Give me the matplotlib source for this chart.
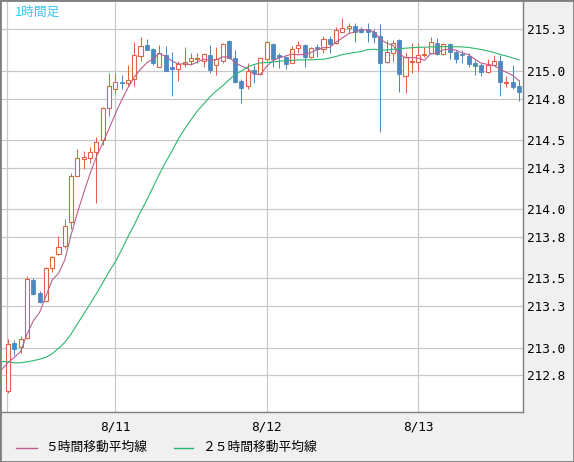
import numpy as np
import pandas as pd
import matplotlib
matplotlib.use('Agg')
import matplotlib.pyplot as plt
from matplotlib.lines import Line2D
from matplotlib.patches import Rectangle

# hourly candles, 8/10 07:00 .. 8/13 16:00
times = pd.date_range('2016-08-10 07:00', periods=82, freq='h')

opens = [212.686, 213.033, 213.004, 213.069, 213.489, 213.395, 213.337, 213.576, 213.677, 213.735,
         213.908, 214.241, 214.364, 214.371, 214.414, 214.501, 214.732, 214.870, 214.920, 214.913,
         214.942, 215.108, 215.188, 215.159, 215.029, 215.116, 215.029, 215.014, 215.051, 215.072,
         215.088, 215.072, 215.116, 215.043, 215.072, 215.217, 215.094, 214.928, 214.892, 215.007,
         214.978, 215.087, 215.195, 215.116, 215.101, 215.058, 215.166, 215.188, 215.101, 215.174,
         215.159, 215.231, 215.202, 215.284, 215.311, 215.325, 215.304, 215.304, 215.282, 215.253,
         215.065, 215.130, 215.224, 214.964, 215.065, 215.065, 215.116, 215.130, 215.202, 215.123,
         215.195, 215.137, 215.123, 215.108, 215.058, 215.043, 214.993, 215.043, 215.072, 214.913,
         214.920, 214.892]
highs = [213.062, 213.055, 213.084, 213.518, 213.503, 213.409, 213.583, 213.662, 213.807, 213.930,
         214.262, 214.436, 214.422, 214.450, 214.523, 214.740, 214.986, 214.986, 214.971, 215.043,
         215.210, 215.246, 215.231, 215.166, 215.188, 215.181, 215.137, 215.072, 215.174, 215.130,
         215.130, 215.130, 215.188, 215.174, 215.202, 215.224, 215.152, 214.942, 215.058, 215.043,
         215.101, 215.217, 215.202, 215.130, 215.108, 215.181, 215.217, 215.195, 215.174, 215.195,
         215.253, 215.253, 215.318, 215.383, 215.347, 215.347, 215.318, 215.347, 215.304, 215.340,
         215.224, 215.224, 215.231, 215.137, 215.202, 215.202, 215.174, 215.246, 215.239, 215.202,
         215.202, 215.152, 215.152, 215.130, 215.080, 215.058, 215.087, 215.116, 215.116, 214.964,
         215.043, 214.935]
lows = [212.672, 212.946, 212.961, 213.062, 213.380, 213.322, 213.330, 213.547, 213.670, 213.720,
        213.858, 214.241, 214.291, 214.335, 214.046, 214.465, 214.675, 214.834, 214.870, 214.892,
        214.892, 215.072, 215.152, 215.043, 215.029, 215.000, 214.819, 214.928, 215.029, 215.043,
        215.058, 215.029, 214.986, 214.971, 215.058, 215.087, 214.913, 214.769, 214.870, 214.913,
        214.971, 215.072, 215.029, 215.022, 215.014, 215.058, 215.130, 215.029, 215.094, 215.101,
        215.130, 215.130, 215.195, 215.282, 215.275, 215.210, 215.275, 215.210, 215.202, 214.559,
        215.058, 215.065, 214.848, 214.841, 214.986, 215.000, 215.101, 215.130, 215.116, 215.116,
        215.087, 215.058, 215.058, 215.029, 214.971, 214.964, 214.986, 215.043, 214.819, 214.884,
        214.870, 214.783]
closes = [213.026, 212.990, 213.062, 213.496, 213.388, 213.330, 213.576, 213.655, 213.727, 213.879,
          214.241, 214.371, 214.378, 214.414, 214.487, 214.732, 214.892, 214.920, 214.910, 214.935,
          215.116, 215.181, 215.152, 215.058, 215.130, 215.000, 215.014, 215.051, 215.065, 215.094,
          215.094, 215.123, 215.007, 215.087, 215.195, 215.094, 214.920, 214.877, 215.000, 214.986,
          215.094, 215.210, 215.087, 215.101, 215.051, 215.159, 215.188, 215.101, 215.166, 215.159,
          215.231, 215.195, 215.296, 215.309, 215.325, 215.282, 215.282, 215.282, 215.246, 215.058,
          215.137, 215.202, 214.978, 215.101, 215.069, 215.116, 215.123, 215.210, 215.123, 215.195,
          215.137, 215.087, 215.116, 215.051, 215.036, 214.993, 215.043, 215.072, 214.920, 214.920,
          214.884, 214.848]
# closes before the visible window (needed for the 5h average at the left edge)
prior_closes = [212.78, 212.80, 212.85, 212.88, 212.90]

# 25h moving average as drawn, starting one hour before the first candle
ma25 = [212.898, 212.898, 212.889, 212.890, 212.897, 212.905, 212.916, 212.929, 212.955, 212.994,
        213.037, 213.098, 213.171, 213.243, 213.315, 213.388, 213.467, 213.547, 213.619, 213.706,
        213.800, 213.887, 213.981, 214.067, 214.161, 214.255, 214.342, 214.422, 214.508, 214.581,
        214.646, 214.711, 214.761, 214.812, 214.855, 214.892, 214.935, 214.975, 215.000, 215.029,
        215.047, 215.058, 215.061, 215.065, 215.071, 215.074, 215.077, 215.080, 215.080, 215.081,
        215.083, 215.085, 215.094, 215.105, 215.119, 215.127, 215.134, 215.141, 215.155, 215.157,
        215.152, 215.152, 215.157, 215.161, 215.165, 215.168, 215.171, 215.172, 215.174, 215.175,
        215.176, 215.176, 215.175, 215.174, 215.170, 215.163, 215.155, 215.145, 215.134, 215.119,
        215.108, 215.094, 215.080]

y_ticks = [212.8, 213.0, 213.3, 213.5, 213.8, 214.0, 214.3, 214.5, 214.8, 215.0, 215.3]

up_color = '#dc6442'
down_color = '#4b89c0'
ma5_color = '#b95e8e'
ma25_color = '#2db56e'
grid_color = '#c8c8c8'
frame_color = '#7f7f7f'
cjk = ['Noto Sans CJK JP', 'DejaVu Sans']
px = 0.72  # one pixel in points

W, H = 574, 462
fig = plt.figure(figsize=(W / 100, H / 100), dpi=100)
fig.patch.set_facecolor('#f0f0f0')
ax = fig.add_axes([1 / W, 50 / H, 522 / W, 411 / H])
ax.set_facecolor('white')

x = np.arange(len(closes))
o = np.array(opens)
c = np.array(closes)
hi = np.array(highs)
lo = np.array(lows)
up = c >= o

# wicks
ax.vlines(x[up], lo[up], hi[up], color=up_color, lw=px, zorder=2)
ax.vlines(x[~up], lo[~up], hi[~up], color=down_color, lw=px, zorder=2)

# bodies: hollow for rising hours, filled for falling
bw = 0.64
ax.bar(x[up], (c - o)[up], bottom=o[up], width=bw, facecolor='white', edgecolor=up_color,
       linewidth=px * 1.1, zorder=3)
ax.bar(x[~up], (o - c)[~up], bottom=c[~up], width=bw, facecolor=down_color, edgecolor=down_color,
       linewidth=px * 0.8, zorder=3)

# moving averages
ma5 = pd.Series(prior_closes + closes).rolling(5).mean().dropna().values
ax.plot(np.arange(-1, len(closes)), ma5, color=ma5_color, lw=px * 1.1, zorder=4)
ax.plot(np.arange(-1, len(closes)), ma25, color=ma25_color, lw=px * 1.1, zorder=4)

# axes
ax.set_xlim(-1.11, 81.62)
ax.set_ylim(212.534, 215.506)
day_idx = [i for i, t in enumerate(times) if t.hour == 0]
ax.set_xticks(day_idx)
ax.set_xticklabels([f'{t.month}/{t.day}' for t in times[day_idx]])
ax.set_yticks(y_ticks)
ax.set_yticklabels([f'{v:.1f}' for v in y_ticks])
ax.yaxis.tick_right()
ax.tick_params(axis='y', length=0, pad=3, labelsize=9.2, labelcolor='black')
ax.tick_params(axis='x', length=0, pad=6, labelsize=9.2, labelcolor='black')
for lab in ax.get_xticklabels() + ax.get_yticklabels():
    lab.set_fontfamily('DejaVu Sans Mono')
ax.grid(True, color=grid_color, lw=px * 1.2, zorder=0)
ax.set_axisbelow(True)
ax.axvline(-0.16, color=grid_color, lw=px * 1.2, zorder=1)
for side in ['left', 'top']:
    ax.spines[side].set_visible(False)
for side in ['right', 'bottom']:
    ax.spines[side].set_color(frame_color)
    ax.spines[side].set_linewidth(1)

ax.text(14 / 522, 1 - 11 / 411, '1時間足', transform=ax.transAxes, color='#3cc4f0',
        fontsize=9.2, family=cjk, va='center', ha='left')

# legend at the bottom
ly = (H - 447.5) / H
fig.add_artist(Line2D([16 / W, 36.5 / W], [ly, ly], color=ma5_color, lw=1))
fig.text(45 / W, ly, '５時間移動平均線', color='black', fontsize=9.2, family=cjk, va='center')
fig.add_artist(Line2D([173.5 / W, 193 / W], [ly, ly], color=ma25_color, lw=1))
fig.text(202.5 / W, ly, '２５時間移動平均線', color='black', fontsize=9.2, family=cjk, va='center')

# outer frame
fig.add_artist(Rectangle((0, 0), 1, 1, transform=fig.transFigure, fill=False,
                         edgecolor=frame_color, lw=2))

fig.savefig('out.png', dpi=100, facecolor=fig.get_facecolor())
